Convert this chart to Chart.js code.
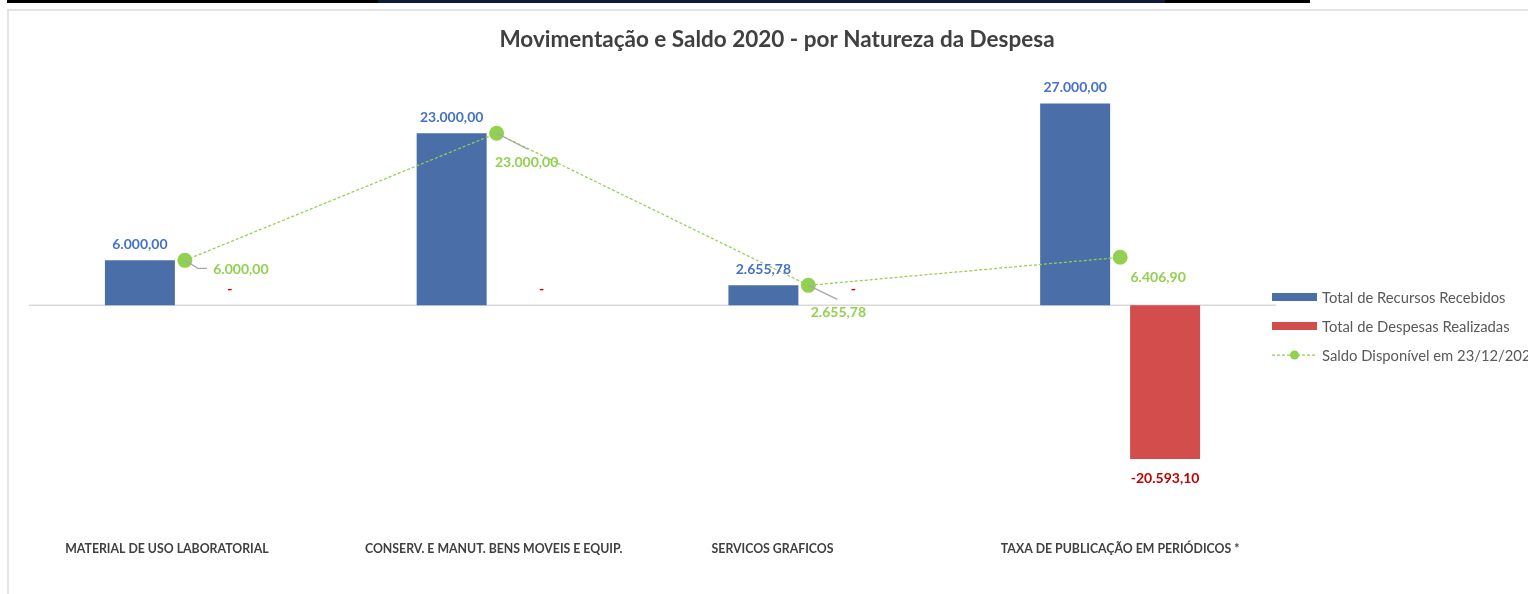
<!DOCTYPE html>
<html lang="pt-BR">
<head>
<meta charset="utf-8">
<title>Movimentação e Saldo 2020 - por Natureza da Despesa</title>
<script src="https://cdn.jsdelivr.net/npm/chart.js@4.4.1/dist/chart.umd.min.js"></script>
<style>
  html, body { margin: 0; padding: 0; background: #fff; overflow: hidden; }
  body { width: 1528px; height: 594px; position: relative; }
  .faixa { position: absolute; top: 0; left: 7px; width: 1303px; height: 3px; background: #000; }
  .faixa2 { position: absolute; top: 0; left: 378px; width: 787px; height: 3px; background: #0d1a3a; }
  .moldura { position: absolute; left: 7px; top: 9px; width: 1600px; height: 600px;
             border-left: 2px solid #e3e3e3; border-top: 2px solid #e3e3e3; }
  #grafico { position: absolute; left: 9px; top: 11px; }
</style>
</head>
<body>
<div class="faixa"></div>
<div class="faixa2"></div>
<div class="moldura"></div>
<canvas id="grafico" width="1540" height="583"></canvas>
<script>
// Dados do gráfico
const categorias = [
  "MATERIAL DE USO LABORATORIAL            ",
  "CONSERV. E MANUT. BENS MOVEIS E EQUIP.  ",
  "SERVICOS GRAFICOS                        ",
  "TAXA DE PUBLICAÇÃO EM PERIÓDICOS *"
];
const recursosRecebidos = [6000, 23000, 2655.78, 27000];
const despesasRealizadas = [0, 0, 0, -20593.10];
const saldoDisponivel = [6000, 23000, 2655.78, 6406.90];

const titulo = "Movimentação e Saldo 2020 - por Natureza da Despesa";
const nomesSeries = ["Total de Recursos Recebidos", "Total de Despesas Realizadas", "Saldo Disponível em 23/12/2020"];

// Cores
const azul = "#4a6ea7";
const vermelho = "#d34d4d";
const verde = "#92d050";

// Formato contábil brasileiro (zero vira "-")
function formata(v) {
  if (v === 0) return "-";
  const partes = Math.abs(v).toFixed(2).split(".");
  const inteiro = partes[0].replace(/\B(?=(\d{3})+(?!\d))/g, ".");
  return (v < 0 ? "-" : "") + inteiro + "," + partes[1];
}

// Posição dos rótulos da linha em relação ao ponto (com linha de chamada)
const rotulosLinha = [
  { dx: 56, dy: 9, chamada: [[13, 8], [22, 8]] },
  { dx: 30, dy: 29, chamada: [[31, 16]] },
  { dx: 30, dy: 27, chamada: [[29, 14]] },
  { dx: 38, dy: 20, chamada: [] }
];

const desenhos = {
  id: "desenhos",
  beforeDatasetsDraw(chart) {
    const ctx = chart.ctx;
    const area = chart.chartArea;
    const y0 = chart.scales.y.getPixelForValue(0);
    ctx.save();
    ctx.strokeStyle = "#d9d9d9";
    ctx.lineWidth = 1.5;
    ctx.beginPath();
    ctx.moveTo(area.left, y0);
    ctx.lineTo(area.right, y0);
    ctx.stroke();
    ctx.restore();
  },
  afterDatasetsDraw(chart) {
    const ctx = chart.ctx;
    const y0 = chart.scales.y.getPixelForValue(0);
    ctx.save();
    ctx.font = "bold 14px Lato";
    ctx.textAlign = "center";
    ctx.textBaseline = "middle";

    // rótulos das barras azuis
    chart.getDatasetMeta(0).data.forEach((barra, i) => {
      ctx.fillStyle = "#4472c4";
      ctx.fillText(formata(recursosRecebidos[i]), barra.x, barra.y - 16);
    });

    // rótulos das barras vermelhas
    chart.getDatasetMeta(1).data.forEach((barra, i) => {
      const v = despesasRealizadas[i];
      ctx.fillStyle = "#c00000";
      if (v < 0) ctx.fillText(formata(v), barra.x, barra.y + 19);
      else ctx.fillText(formata(v), barra.x, y0 - 16);
    });

    // rótulos da linha de saldo
    chart.getDatasetMeta(2).data.forEach((pt, i) => {
      const r = rotulosLinha[i];
      if (r.chamada.length) {
        ctx.strokeStyle = "#a6a6a6";
        ctx.lineWidth = 1.2;
        ctx.beginPath();
        ctx.moveTo(pt.x, pt.y);
        r.chamada.forEach(c => ctx.lineTo(pt.x + c[0], pt.y + c[1]));
        ctx.stroke();
      }
      ctx.fillStyle = verde;
      ctx.fillText(formata(saldoDisponivel[i]), pt.x + r.dx, pt.y + r.dy);
    });
    ctx.restore();
  },
  afterDraw(chart) {
    const ctx = chart.ctx;
    ctx.save();
    // título
    ctx.font = "bold 22.5px Lato";
    ctx.fillStyle = "#404040";
    ctx.textAlign = "center";
    ctx.textBaseline = "middle";
    ctx.fillText(titulo, 768, 29);

    // legenda
    const lx = 1263, ly = [286, 315, 344];
    ctx.font = "14.8px Lato";
    ctx.textAlign = "left";
    ctx.fillStyle = azul;
    ctx.fillRect(lx, ly[0] - 4, 45, 8);
    ctx.fillStyle = vermelho;
    ctx.fillRect(lx, ly[1] - 4, 45, 8);
    ctx.strokeStyle = verde;
    ctx.lineWidth = 1.25;
    ctx.setLineDash([3, 2]);
    ctx.beginPath();
    ctx.moveTo(lx, ly[2]);
    ctx.lineTo(lx + 45, ly[2]);
    ctx.stroke();
    ctx.setLineDash([]);
    ctx.fillStyle = verde;
    ctx.beginPath();
    ctx.arc(lx + 22.5, ly[2], 4.5, 0, Math.PI * 2);
    ctx.fill();
    ctx.fillStyle = "#595959";
    nomesSeries.forEach((nome, i) => ctx.fillText(nome, lx + 50, ly[i] + 1));
    ctx.restore();
  }
};

new Chart(document.getElementById("grafico"), {
  type: "bar",
  data: {
    labels: categorias,
    datasets: [
      {
        label: nomesSeries[0],
        data: recursosRecebidos,
        backgroundColor: azul,
        categoryPercentage: 0.577,
        barPercentage: 0.778,
        order: 1
      },
      {
        label: nomesSeries[1],
        data: despesasRealizadas,
        backgroundColor: vermelho,
        categoryPercentage: 0.577,
        barPercentage: 0.778,
        order: 1
      },
      {
        type: "line",
        label: nomesSeries[2],
        data: saldoDisponivel,
        borderColor: verde,
        borderWidth: 1.25,
        borderDash: [3, 2],
        pointBackgroundColor: verde,
        pointBorderWidth: 0,
        pointRadius: 7.5,
        fill: false,
        tension: 0,
        order: 0
      }
    ]
  },
  options: {
    responsive: false,
    animation: false,
    layout: { padding: { left: 20, right: 273, top: 70, bottom: 0 } },
    plugins: {
      legend: { display: false },
      title: { display: false },
      tooltip: { enabled: false }
    },
    scales: {
      x: {
        grid: { display: false, drawTicks: false },
        border: { display: false },
        afterFit(scale) { scale.height = 102; },
        ticks: {
          padding: 50,
          maxRotation: 0,
          autoSkip: false,
          color: "#404040",
          font: { family: "Lato", size: 12.3, weight: "bold" }
        }
      },
      y: {
        display: false,
        min: -25000,
        max: 30000
      }
    }
  },
  plugins: [desenhos]
});
</script>
</body>
</html>
